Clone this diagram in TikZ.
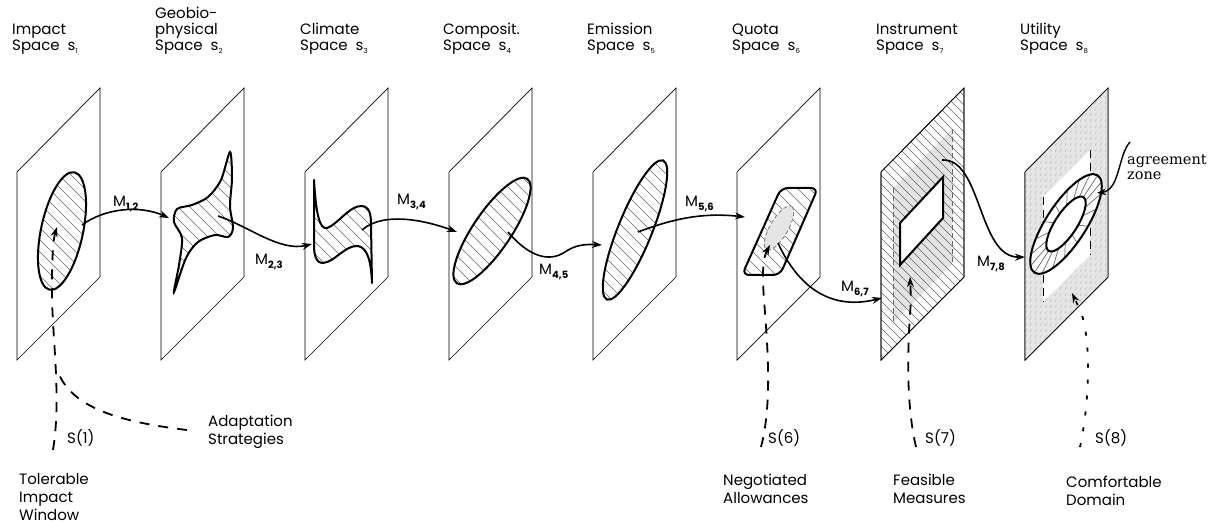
\documentclass[tikz,border=0pt]{standalone}
\usepackage{fontspec}
\setsansfont{Poppins}
\newfontfamily\agfont{DejaVu Serif}
\usetikzlibrary{arrows.meta}
\newcommand\lsub[1]{\raisebox{-2.5pt}{\fontsize{7}{7}\selectfont #1}}
\newcommand\msub[1]{\raisebox{-4pt}{\fontsize{10}{10}\selectfont\bfseries #1}}
\begin{document}
\begin{tikzpicture}[x=1pt,y=-1pt,
  panel/.style={draw=black,line width=0.7pt,fill=white},
  shp/.style={draw=black,line width=2pt},
  hl/.style={draw=black!60,line width=0.45pt},
  conn/.style={line width=1.6pt,-{Stealth[length=10pt,width=7pt]}},
  sline/.style={line width=1.8pt,dash pattern=on 10pt off 9pt,-{Stealth[length=10pt,width=7pt]}},
  dline/.style={line width=1.8pt,dash pattern=on 10pt off 9pt},
  lab/.style={font=\sffamily\fontsize{15}{16}\selectfont,align=left,anchor=base west,inner sep=0pt},
  labb/.style={font=\sffamily\fontsize{15}{18}\selectfont,align=left,anchor=base west,inner sep=0pt},
  mlab/.style={font=\sffamily\fontsize{15}{16}\selectfont,anchor=base west,inner sep=0pt},
]
\useasboundingbox (0,0) rectangle (1219,529);

% ---------------- panels
\foreach \i in {0,...,7}{
  \pgfmathsetmacro\L{17+144*\i}
  \draw[panel] (\L,172) -- (\L+83,88) -- (\L+83,277) -- (\L,360) -- cycle;
}

% ---------------- panel 1 : ellipse
\begin{scope}
  \clip[rotate around={78:(62,231)}] (62,231) ellipse [x radius=60,y radius=21];
  \foreach \c in {-260,-248,...,-80} \draw[hl] (\c+165,165) -- (\c+297,297);
\end{scope}
\draw[shp,rotate around={78:(62,231)}] (62,231) ellipse [x radius=60,y radius=21];

% ---------------- panel 2 : star
\begin{scope}
  \clip plot[smooth cycle,tension=0.5] coordinates {(230,152) (232,178) (230,206) (233,228) (228,237) (215,235) (198,242) (186,258) (174,292) (179,265) (182,238) (174,222) (177,209) (192,205) (208,197) (221,180)};
  \foreach \c in {-125,-113,...,85} \draw[hl] (\c+150,150) -- (\c+295,295);
\end{scope}
\draw[shp] plot[smooth cycle,tension=0.5] coordinates {(230,152) (232,178) (230,206) (233,228) (228,237) (215,235) (198,242) (186,258) (174,292) (179,265) (182,238) (174,222) (177,209) (192,205) (208,197) (221,180)};

% ---------------- panel 3 : S shape
\begin{scope}
  \clip (314,180) .. controls (316,215) and (320,230) .. (327,228) .. controls (337,225) and (350,205) .. (362,206) .. controls (370,207) and (371,215) .. (371,225) -- (372,283) .. controls (371,262) and (368,248) .. (358,246) .. controls (345,245) and (335,262) .. (323,263) .. controls (316,263) and (314,255) .. (314,245) -- cycle;
  \foreach \c in {25,37,...,195} \draw[hl] (\c+175,175) -- (\c+290,290);
\end{scope}
\draw[shp,line join=round] (314,180) .. controls (316,215) and (320,230) .. (327,228) .. controls (337,225) and (350,205) .. (362,206) .. controls (370,207) and (371,215) .. (371,225) -- (372,283) .. controls (371,262) and (368,248) .. (358,246) .. controls (345,245) and (335,262) .. (323,263) .. controls (316,263) and (314,255) .. (314,245) -- cycle;

% ---------------- panel 4 : ellipse
\begin{scope}
  \clip[rotate around={56:(492,231)}] (492,231) ellipse [x radius=63,y radius=19];
  \foreach \c in {165,177,...,355} \draw[hl] (\c+175,175) -- (\c+290,290);
\end{scope}
\draw[shp,rotate around={56:(492,231)}] (492,231) ellipse [x radius=63,y radius=19];

% ---------------- panel 5 : ellipse
\begin{scope}
  \clip[rotate around={68:(635,230)}] (635,230) ellipse [x radius=75,y radius=17];
  \foreach \c in {300,312,...,510} \draw[hl] (\c+158,158) -- (\c+302,302);
\end{scope}
\draw[shp,rotate around={68:(635,230)}] (635,230) ellipse [x radius=75,y radius=17];

% ---------------- panel 6 : rounded parallelogram
\begin{scope}
  \clip[rounded corners=7pt] (781,188) -- (818,188) -- (780,275) -- (742,275) -- cycle;
  \foreach \c in {465,477,...,635} \draw[hl] (\c+185,185) -- (\c+278,278);
\end{scope}
\draw[shp,rounded corners=7pt] (781,188) -- (818,188) -- (780,275) -- (742,275) -- cycle;
\draw[draw=black!50,fill=black!10,line width=0.9pt,dash pattern=on 4pt off 2.5pt,rotate around={60:(779,228)}] (779,228) ellipse [x radius=25,y radius=9];

% ---------------- panel 7 : instrument space
\fill[black!11] (893,188) -- (952,129) -- (952,264) -- (893,323) -- cycle;
\begin{scope}
  \clip (881,172) -- (964,88) -- (964,277) -- (881,360) -- cycle;
  \foreach \c in {517,526,...,877} \draw[hl] (\c+88,88) -- (\c+360,360);
\end{scope}
\draw[black!60,line width=0.9pt,dash pattern=on 5pt off 3pt] (893,188) -- (893,323) (952,129) -- (952,264);
\draw[shp,fill=white] (900,223) -- (943,177) -- (943,218) -- (900,265) -- cycle;
\draw[line width=0.7pt] (881,172) -- (964,88) -- (964,277) -- (881,360) -- cycle;

% ---------------- panel 8 : utility space
\fill[black!10] (1025,172) -- (1108,88) -- (1108,277) -- (1025,360) -- cycle;
\begin{scope}
  \clip (1025,172) -- (1108,88) -- (1108,277) -- (1025,360) -- cycle;
  \foreach \x in {1025,1030,...,1110} \foreach \y in {86,92,...,364} \draw[black!30,line width=0.4pt] (\x,\y) -- ++(1.5,-3);
\end{scope}
\fill[white] (1043,197) -- (1090,150) -- (1090,255) -- (1043,302) -- cycle;
\draw[line width=1pt,dash pattern=on 8pt off 5pt] (1043,197) -- (1043,302) (1090,150) -- (1090,255);
\begin{scope}[shift={(1066,224)},rotate=57]
  \fill[white,even odd rule] (0,0) ellipse [x radius=58,y radius=20] (0,0) ellipse [x radius=32,y radius=11];
  \foreach \t in {0,20,...,340} \draw[hl,line width=0.7pt] (\t:32 and 11) -- (\t:58 and 20);
  \draw[shp] (0,0) ellipse [x radius=58,y radius=20];
  \draw[shp] (0,0) ellipse [x radius=32,y radius=11];
\end{scope}
\draw[line width=0.7pt] (1025,172) -- (1108,88) -- (1108,277) -- (1025,360) -- cycle;

% ---------------- mapping connectors
\coordinate (m12s) at (82,225);   \coordinate (m12e) at (169,218);
\coordinate (m23s) at (218,216);  \coordinate (m23e) at (312,244);
\coordinate (m34s) at (362,230);  \coordinate (m34e) at (457,232);
\coordinate (m45s) at (508,232);  \coordinate (m45e) at (602,245);
\coordinate (m56s) at (638,232);  \coordinate (m56e) at (745,217);
\coordinate (m67s) at (778,243);  \coordinate (m67e) at (882,298);
\coordinate (m78s) at (942,160);  \coordinate (m78e) at (1025,257);
\draw[conn] (m12s) .. controls (105,208) and (140,205) .. (m12e);
\draw[conn] (m23s) .. controls (248,226) and (280,252) .. (m23e);
\draw[conn] (m34s) .. controls (385,210) and (430,222) .. (m34e);
\draw[conn] (m45s) .. controls (530,258) and (550,262) .. (565,252) .. controls (575,245) and (585,244) .. (m45e);
\draw[conn] (m56s) .. controls (670,220) and (700,212) .. (m56e);
\draw[conn] (m67s) .. controls (795,280) and (825,312) .. (m67e);
\draw[conn] (m78s) .. controls (982,158) and (978,258) .. (m78e);

\node[mlab] (M12) at (113,207) {M\msub{1,2}};
\node[mlab] (M23) at (255,265) {M\msub{2,3}};
\node[mlab] (M34) at (397,205) {M\msub{3,4}};
\node[mlab] (M45) at (539,275) {M\msub{4,5}};
\node[mlab] (M56) at (685,207) {M\msub{5,6}};
\node[mlab] (M67) at (841,292) {M\msub{6,7}};
\node[mlab] (M78) at (977,267) {M\msub{7,8}};

% ---------------- strategy connectors
\coordinate (s1b) at (53,450);  \coordinate (s1t) at (57,227);
\coordinate (adb) at (187,430); \coordinate (adj) at (58,372);
\coordinate (s6b) at (761,447); \coordinate (s6t) at (770,245);
\coordinate (s7b) at (916,447); \coordinate (s7t) at (910,277);
\coordinate (s8b) at (1080,447); \coordinate (s8t) at (1072,293);
\coordinate (agb) at (1130,142); \coordinate (agt) at (1097,193);
\draw[sline] (s1b) .. controls (62,395) and (51,330) .. (52,285) .. controls (52,260) and (53,240) .. (s1t);
\draw[dline] (adb) .. controls (120,422) and (72,408) .. (adj);
\draw[sline] (s6b) .. controls (772,405) and (768,350) .. (764,300) .. controls (762,272) and (763,258) .. (s6t);
\draw[sline] (s7b) .. controls (905,400) and (908,340) .. (911,300) -- (s7t);
\draw[line width=1.8pt,dash pattern=on 4pt off 12pt,-{Stealth[length=10pt,width=7pt]}] (s8b) .. controls (1090,400) and (1091,340) .. (1081,312) -- (s8t);
\draw[line width=1.4pt,-{Stealth[length=9pt,width=6.5pt]}] (agb) .. controls (1118,155) and (1120,190) .. (agt);

% ---------------- labels (anchor = baseline of last line)
\node[lab] (t1) at (12,51) {Impact\\Space\ \ s\lsub{1}};
\node[lab] (t2) at (155,51) {Geobio-\\physical\\Space\ \ s\lsub{2}};
\node[lab] (t3) at (300,51) {Climate\\Space\ \ s\lsub{3}};
\node[lab] (t4) at (443,51) {Composit.\\Space\ \ s\lsub{4}};
\node[lab] (t5) at (587,51) {Emission\\Space\ \ s\lsub{5}};
\node[lab] (t6) at (732,51) {Quota\\Space\ \ s\lsub{6}};
\node[lab] (t7) at (876,51) {Instrument\\Space\ \ s\lsub{7}};
\node[lab] (t8) at (1020,51) {Utility\\Space\ \ s\lsub{8}};

\node[lab] (S1) at (67,443) {S(1)};
\node[labb] (AS) at (208,444) {Adaptation\\Strategies};
\node[labb] (TW) at (19,520) {Tolerable\\Impact\\Window};
\node[lab] (S6) at (768,443) {S(6)};
\node[labb] (NA) at (723,503) {Negotiated\\Allowances};
\node[lab] (S7) at (925,443) {S(7)};
\node[labb] (FM) at (893,503) {Feasible\\Measures};
\node[lab] (S8) at (1095,443) {S(8)};
\node[labb] (CD) at (1066,505) {Comfortable\\Domain};
\node[font=\agfont\fontsize{14.5}{15}\selectfont,align=left,anchor=base west,inner sep=0pt] (AZ) at (1127,180) {agreement\\zone};
\end{tikzpicture}
\end{document}
